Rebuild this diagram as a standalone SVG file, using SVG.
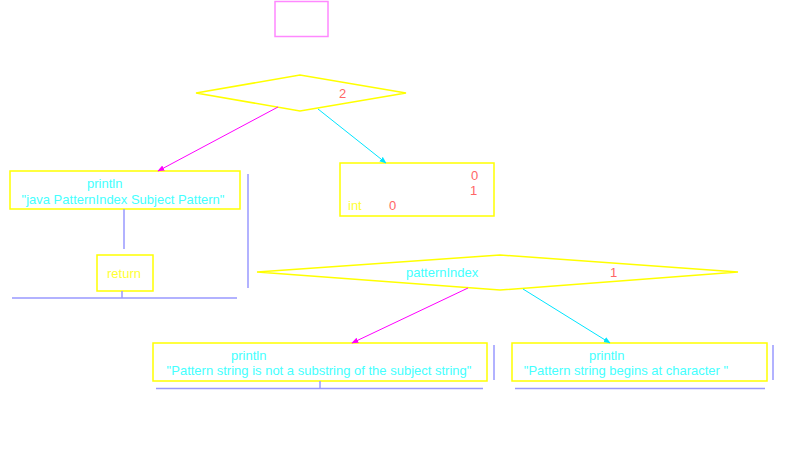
<svg xmlns="http://www.w3.org/2000/svg" width="787" height="462" viewBox="0 0 787 462">
  <style>
    .box { fill: none; stroke: #ffff00; stroke-width: 1.5; }
    .dia { fill: none; stroke: #ffff00; stroke-width: 1.5; }
    .frame { fill: none; stroke: #9999ff; stroke-width: 1.5; }
    .t { font-family: "Liberation Sans", Arial, sans-serif; font-size: 13px; }
    .cy { fill: #44ffff; }
    .rd { fill: #ff6666; }
    .yl { fill: #ffff33; }
    .mg { stroke: #ff00ff; stroke-width: 1; fill: none; }
    .cn { stroke: #00e5ff; stroke-width: 1; fill: none; }
  </style>
  <defs>
    <marker id="ahM" viewBox="0 0 10 10" refX="9" refY="5" markerWidth="7" markerHeight="7" orient="auto">
      <path d="M0,1 L10,5 L0,9 z" fill="#ff00ff"/>
    </marker>
    <marker id="ahC" viewBox="0 0 10 10" refX="9" refY="5" markerWidth="7" markerHeight="7" orient="auto">
      <path d="M0,1 L10,5 L0,9 z" fill="#00e5ff"/>
    </marker>
  </defs>
  <rect width="787" height="462" fill="#ffffff"/>

  <g id="start">
    <rect x="275" y="1.5" width="53" height="35" fill="none" stroke="#ff88ff" stroke-width="1.5"/>
  </g>

  <g id="decision-args">
    <polygon class="dia" points="196,93 300,75 406,93 300,111"/>
    <text class="t rd" x="339" y="98">2</text>
  </g>

  <g id="usage">
    <rect class="box" x="10" y="171" width="230" height="38"/>
    <text class="t cy" x="87" y="188">println</text>
    <text class="t cy" x="123" y="204" text-anchor="middle">"java PatternIndex Subject Pattern"</text>
  </g>

  <g id="return">
    <rect class="box" x="97" y="255" width="56" height="36"/>
    <text class="t yl" x="124" y="278" text-anchor="middle">return</text>
  </g>

  <g id="declare">
    <rect class="box" x="340" y="163" width="154" height="53"/>
    <text class="t rd" x="471" y="180">0</text>
    <text class="t rd" x="470" y="195">1</text>
    <text class="t yl" x="348" y="210">int</text>
    <text class="t rd" x="389" y="210">0</text>
  </g>

  <g id="decision-index">
    <polygon class="dia" points="257,272 500,255 738,272 500,290"/>
    <text class="t cy" x="406" y="277">patternIndex</text>
    <text class="t rd" x="610" y="277">1</text>
  </g>

  <g id="not-found">
    <rect class="box" x="153" y="343" width="334" height="38"/>
    <text class="t cy" x="231" y="360">println</text>
    <text class="t cy" x="319" y="375" text-anchor="middle">"Pattern string is not a substring of the subject string"</text>
  </g>

  <g id="found">
    <rect class="box" x="512" y="343" width="255" height="38"/>
    <text class="t cy" x="589" y="360">println</text>
    <text class="t cy" x="626" y="375" text-anchor="middle">"Pattern string begins at character "</text>
  </g>

  <g id="connectors">
    <line class="mg" x1="278" y1="107" x2="158" y2="171" marker-end="url(#ahM)"/>
    <line class="cn" x1="318" y1="109" x2="386" y2="163" marker-end="url(#ahC)"/>
    <line class="mg" x1="468" y1="288" x2="352" y2="343" marker-end="url(#ahM)"/>
    <line class="cn" x1="523" y1="289" x2="610" y2="343" marker-end="url(#ahC)"/>
    <line class="frame" x1="124" y1="209" x2="124" y2="249"/>
    <line class="frame" x1="248" y1="174" x2="248" y2="288"/>
    <line class="frame" x1="12" y1="298" x2="237" y2="298"/>
    <line class="frame" x1="122" y1="291" x2="122" y2="298"/>
    <line class="frame" x1="494" y1="345" x2="494" y2="380"/>
    <line class="frame" x1="156" y1="388.5" x2="483" y2="388.5"/>
    <line class="frame" x1="320" y1="381" x2="320" y2="388"/>
    <line class="frame" x1="515" y1="388.5" x2="765" y2="388.5"/>
    <line class="frame" x1="773" y1="345" x2="773" y2="380"/>
  </g>
</svg>
